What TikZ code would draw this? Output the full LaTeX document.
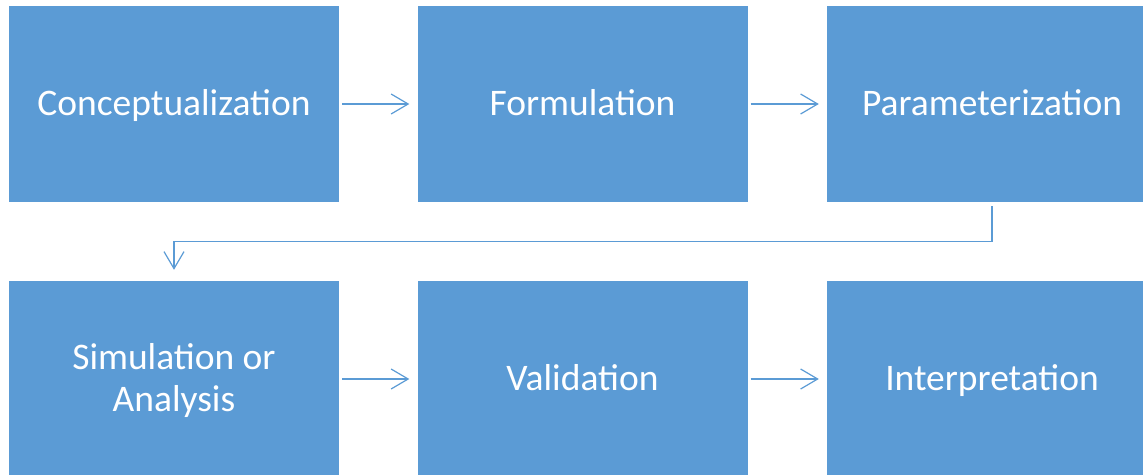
\documentclass[tikz,border=0pt]{standalone}
\usepackage{fontspec}
\setmainfont{Carlito}
\usetikzlibrary{arrows.meta}
\definecolor{boxblue}{HTML}{5B9BD5}
\tikzset{
  stepbox/.style={rectangle, fill=boxblue, draw=none, minimum width=330pt, minimum height=196pt,
    inner sep=0pt, text height=27pt, text depth=5pt, text=white, align=center,
    font=\fontsize{37.5}{42}\selectfont},
  arr/.style={draw=boxblue, line width=1.2pt, -{Straight Barb[length=17pt,width=20pt,line width=1.2pt]}}
}
\begin{document}
\begin{tikzpicture}[x=1pt,y=-1pt]
\useasboundingbox (0,0) rectangle (1143,474);
\begin{scope}
\clip (0,0) rectangle (1143,474);
\node[stepbox] (b1) at (174,104) {Conceptualization};
\node[stepbox] (b2) at (582.5,104) {Formulation};
\node[stepbox] (b3) at (992,104) {Parameterization};
\node[stepbox, text height=69pt] (b4) at (174,379) {Simulation or\\Analysis};
\node[stepbox] (b5) at (582.5,379) {Validation};
\node[stepbox] (b6) at (992,379) {Interpretation};
\end{scope}
\draw[arr] ([xshift=3pt]b1.east) -- ([xshift=-8pt]b2.west);
\draw[arr] ([xshift=3pt]b2.east) -- ([xshift=-8pt]b3.west);
\draw[arr] ([yshift=-4pt]b3.south) -- ++(0,35) -| ([yshift=11pt]b4.north);
\draw[arr] ([xshift=3pt]b4.east) -- ([xshift=-8pt]b5.west);
\draw[arr] ([xshift=3pt]b5.east) -- ([xshift=-8pt]b6.west);
\end{tikzpicture}
\end{document}
